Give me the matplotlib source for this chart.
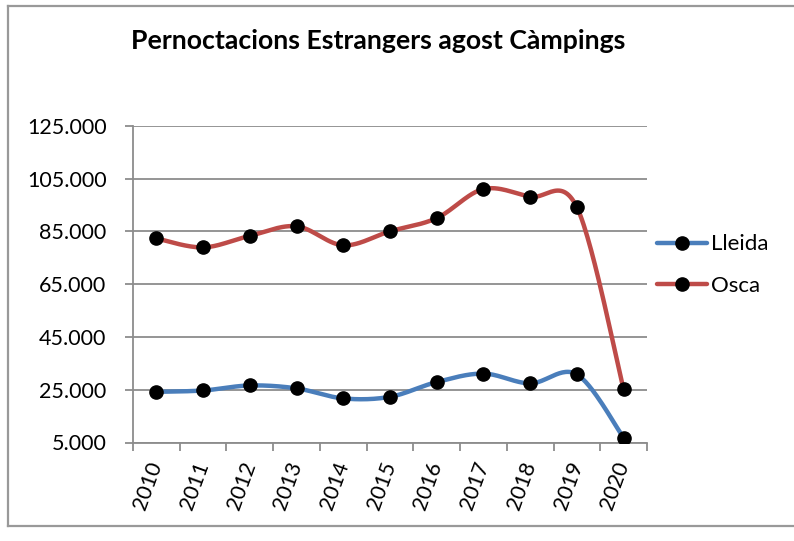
import numpy as np
import matplotlib
matplotlib.use("Agg")
import matplotlib.pyplot as plt
from matplotlib.lines import Line2D
from matplotlib.ticker import FuncFormatter

plt.rcParams['font.family'] = ['Lato', 'DejaVu Sans']

years = ['2010', '2011', '2012', '2013', '2014', '2015',
         '2016', '2017', '2018', '2019', '2020']
lleida = [24200, 24700, 26600, 25500, 21700, 22300,
          27900, 31100, 27400, 30800, 6800]
osca = [82300, 78900, 83300, 86900, 79700, 85000,
        90000, 101000, 98100, 94100, 25200]
yticks = [5000, 25000, 45000, 65000, 85000, 105000, 125000]

c_lleida = '#4A7EBB'
c_osca = '#BE4B48'
c_grid = '#8C8C8C'


def smooth(y, n=30):
    # excel-like smoothed line: bezier segments with catmull-rom control points
    x = np.arange(len(y), dtype=float)
    y = np.asarray(y, dtype=float)
    pts = np.column_stack([x, y])
    out = []
    t = np.linspace(0, 1, n)[:, None]
    for i in range(len(pts) - 1):
        p0 = pts[max(i - 1, 0)]
        p1 = pts[i]
        p2 = pts[i + 1]
        p3 = pts[min(i + 2, len(pts) - 1)]
        c1 = p1 + (p2 - p0) / 6
        c2 = p2 - (p3 - p1) / 6
        seg = ((1 - t) ** 3) * p1 + 3 * ((1 - t) ** 2) * t * c1 \
            + 3 * (1 - t) * t ** 2 * c2 + t ** 3 * p2
        out.append(seg if i == 0 else seg[1:])
    out = np.vstack(out)
    return out[:, 0], out[:, 1]


fig = plt.figure(figsize=(7.94, 5.41), dpi=100)
ax = fig.add_axes([133 / 794, 1 - 442.5 / 541, 514 / 794, 316.8 / 541])

x = np.arange(len(years))
for vals, col, name in [(lleida, c_lleida, 'Lleida'), (osca, c_osca, 'Osca')]:
    sx, sy = smooth(vals)
    ax.plot(sx, sy, color=col, lw=3.2, solid_capstyle='round', zorder=3)
    ax.plot(x, vals, 'o', color='black', ms=9.5, zorder=4)

ax.set_xlim(-0.5, len(years) - 0.5)
ax.set_ylim(5000, 125000)
ax.set_yticks(yticks)
ax.yaxis.set_major_formatter(FuncFormatter(lambda v, p: f"{int(v):,}".replace(',', '.')))
ax.grid(axis='y', color=c_grid, lw=1.3)
ax.set_axisbelow(True)

ax.set_xticks(np.arange(-0.5, len(years), 1.0))
ax.set_xticklabels([])
ax.set_xticks(x, minor=True)
ax.set_xticklabels(years, minor=True, rotation=70, rotation_mode='anchor',
                   ha='right', va='center', fontsize=15.5)
ax.tick_params(axis='x', which='minor', length=0, pad=14)
ax.tick_params(axis='x', which='major', length=6, color=c_grid, width=1.3)
ax.tick_params(axis='y', length=6, color=c_grid, width=1.3, labelsize=15.5, pad=13)

for s in ['top', 'right']:
    ax.spines[s].set_visible(False)
for s in ['left', 'bottom']:
    ax.spines[s].set_color(c_grid)
    ax.spines[s].set_linewidth(1.3)

fig.text(378 / 794, 1 - 41 / 541, 'Pernoctacions Estrangers agost Càmpings',
         ha='center', va='center', fontsize=19.2, fontweight='bold')

handles = [Line2D([], [], color=c_lleida, lw=3.2, marker='o', mfc='black',
                  mec='black', ms=9.5, solid_capstyle='round'),
           Line2D([], [], color=c_osca, lw=3.2, marker='o', mfc='black',
                  mec='black', ms=9.5, solid_capstyle='round')]
fig.legend(handles, ['Lleida', 'Osca'], loc='center left',
           bbox_to_anchor=(657 / 794, 1 - 265 / 541), frameon=False,
           borderpad=0, borderaxespad=0,
           fontsize=16, handlelength=2.25, handletextpad=0.2, labelspacing=0.95)

# chart frame
fig.add_artist(Line2D([8 / 794, 8 / 794], [1 - 6 / 541, 1 - 526 / 541],
                      transform=fig.transFigure, color='#999999', lw=1.6))
fig.add_artist(Line2D([8 / 794, 1], [1 - 6 / 541, 1 - 6 / 541],
                      transform=fig.transFigure, color='#999999', lw=1.6))
fig.add_artist(Line2D([8 / 794, 1], [1 - 526 / 541, 1 - 526 / 541],
                      transform=fig.transFigure, color='#999999', lw=1.6))

fig.savefig('out.png', dpi=100)
